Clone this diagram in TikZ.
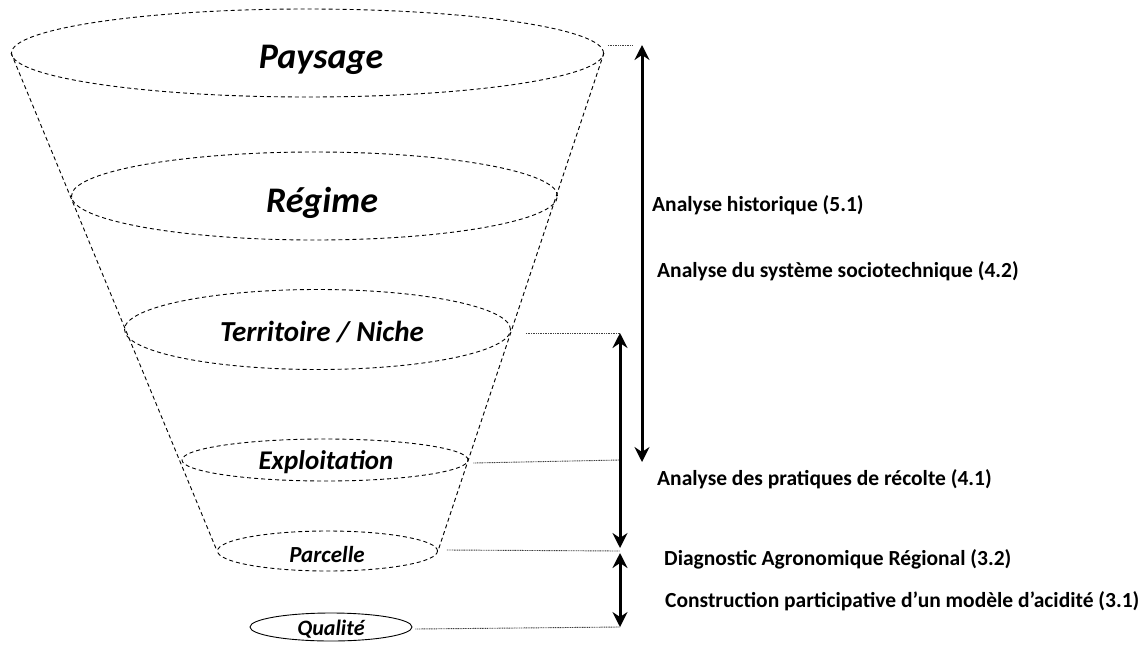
\documentclass[tikz,border=0pt]{standalone}
\usepackage{fontspec}
\setmainfont{Carlito}
\usetikzlibrary{shapes.geometric,arrows.meta}
\begin{document}
\begin{tikzpicture}[x=1pt,y=-1pt,
  lvl/.style={ellipse,draw,dash pattern=on 4pt off 3pt,line width=0.9pt,inner sep=0pt},
  lvltext/.style={anchor=base,inner sep=0pt,font=\bfseries\itshape},
  cone/.style={draw,dash pattern=on 4pt off 3pt,line width=0.9pt},
  lab/.style={anchor=base west,font=\bfseries\fontsize{21.5}{24}\selectfont,inner sep=0pt},
  guide/.style={draw=black!75,line width=0.9pt,dash pattern=on 1pt off 0.7pt},
  span/.style={line width=3pt,{Stealth[length=15pt,width=15pt,inset=5pt]}-{Stealth[length=15pt,width=15pt,inset=5pt]}}
]
\useasboundingbox (0,0) rectangle (1144,646);

% levels (ellipses)
\node[lvl,minimum width=592pt,minimum height=88pt] (pay) at (307.5,53) {};
\node[lvl,minimum width=486pt,minimum height=88pt] (reg) at (314.5,196) {};
\node[lvl,minimum width=386pt,minimum height=80pt] (ter) at (317.5,329.5) {};
\node[lvl,minimum width=286pt,minimum height=42pt] (exp) at (325,460) {};
\node[lvl,minimum width=220pt,minimum height=40pt] (par) at (327.5,551) {};
\node[ellipse,draw,line width=0.9pt,inner sep=0pt,minimum width=162pt,minimum height=28pt] (qua) at (331,627) {};

% level names
\node[lvltext,font=\bfseries\itshape\fontsize{36}{40}\selectfont] (payT) at (321,68) {Paysage};
\node[lvltext,font=\bfseries\itshape\fontsize{36}{40}\selectfont] (regT) at (322,212) {Régime};
\node[lvltext,font=\bfseries\itshape\fontsize{29}{32}\selectfont] (terT) at (322,341) {Territoire / Niche};
\node[lvltext,font=\bfseries\itshape\fontsize{27}{30}\selectfont] (expT) at (326,469) {Exploitation};
\node[lvltext,font=\bfseries\itshape\fontsize{23}{26}\selectfont] (parT) at (327,562) {Parcelle};
\node[lvltext,font=\bfseries\itshape\fontsize{22}{25}\selectfont] (quaT) at (331,635) {Qualité};

% cone
\draw[cone] (pay.west) -- (par.west);
\draw[cone] (pay.east) -- (par.east);

% arrow end points
\coordinate (L1) at (642,45);
\coordinate (L2) at (642,462);
\coordinate (M1) at (620,333);
\coordinate (M2) at (620,548);
\coordinate (B1) at (620,553);
\coordinate (B2) at (620,627);

% guide lines
\coordinate (gP) at (633,45);
\draw[guide] ([shift={(4,-8)}]pay.east) -- (gP);
\draw[guide] ([shift={(15,3.5)}]ter.east) -- (M1);
\draw[guide] ([shift={(5,3)}]exp.east) -- (exp.east -| M1);
\draw[guide] ([shift={(9,-1)}]par.east) -- (par.east -| M1);
\draw[guide] ([shift={(3,2)}]qua.east) -- (qua.east -| M1);

% arrows
\draw[span] (L1) -- (L2);
\draw[span] (M1) -- (M2);
\draw[span] (B1) -- (B2);

% labels
\node[lab] (t1) at (652,211) {Analyse historique (5.1)};
\node[lab] (t2) at (657,277) {Analyse du système sociotechnique (4.2)};
\node[lab] (t3) at (657,485) {Analyse des pratiques de récolte (4.1)};
\node[lab] (t4) at (664,565) {Diagnostic Agronomique Régional (3.2)};
\node[lab] (t5) at (665,607) {Construction participative d’un modèle d’acidité (3.1)};
\end{tikzpicture}
\end{document}
